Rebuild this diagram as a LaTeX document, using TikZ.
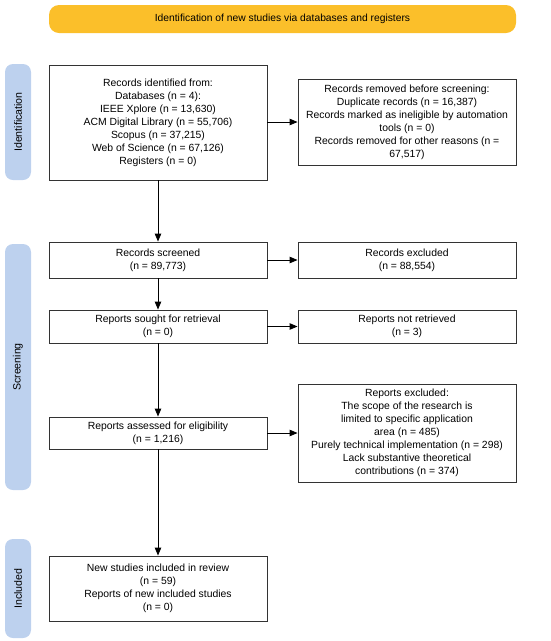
\documentclass[tikz,border=0pt]{standalone}
\usepackage{fontspec}
\setmainfont{Liberation Sans}
\usetikzlibrary{arrows.meta}
\definecolor{bannercol}{HTML}{FBBF2A}
\definecolor{barcol}{HTML}{BDD1EE}
\definecolor{linecol}{HTML}{333333}
\tikzset{
  box/.style={draw=linecol, line width=0.9pt, fill=white, align=center, inner sep=2pt,
    minimum width=218pt, font=\fontsize{10.4}{13}\selectfont, text=black},
  bar/.style={fill=barcol, rounded corners=8pt, minimum width=26pt, inner sep=0pt},
  barlabel/.style={rotate=90, font=\fontsize{10.6}{12}\selectfont},
  conn/.style={draw=black, line width=0.9pt, -{Triangle[length=8pt,width=6.5pt]}}
}
\begin{document}
\begin{tikzpicture}[x=1pt,y=-1pt]
\useasboundingbox (0,0) rectangle (550,641);
\node[fill=bannercol, rounded corners=10pt, minimum width=467pt, minimum height=28pt,
  font=\fontsize{10.3}{12}\selectfont] (banner) at (282.5,19) {Identification of new studies via databases and registers};
\node[bar, minimum height=116pt] (idbar) at (18,122) {};
\node[barlabel] (idlab) at (idbar.center) {Identification};
\node[bar, minimum height=246pt] (scbar) at (18,367) {};
\node[barlabel] (sclab) at (scbar.center) {Screening};
\node[bar, minimum height=99pt] (inbar) at (18,588.5) {};
\node[barlabel] (inlab) at (inbar.center) {Included};

\node[box, minimum height=115pt] (b1) at (158,122.5) {Records identified from:\\Databases (n = 4):\\IEEE Xplore (n = 13,630)\\ACM Digital Library (n = 55,706)\\Scopus (n = 37,215)\\Web of Science (n = 67,126)\\Registers (n = 0)};
\node[box, minimum height=86pt] (b2) at (407,122) {Records removed before screening:\\Duplicate records (n = 16,387)\\Records marked as ineligible by automation\\tools (n = 0)\\Records removed for other reasons (n =\\67,517)};
\node[box, minimum height=36pt] (b3) at (158,260) {Records screened\\(n = 89,773)};
\node[box, minimum height=36pt] (b4) at (407,260) {Records excluded\\(n = 88,554)};
\node[box, minimum height=33pt] (b5) at (158,326.5) {Reports sought for retrieval\\(n = 0)};
\node[box, minimum height=33pt] (b6) at (407,326.5) {Reports not retrieved\\(n = 3)};
\node[box, minimum height=32pt] (b7) at (158,433) {Reports assessed for eligibility\\(n = 1,216)};
\node[box, minimum height=98pt] (b8) at (407,433) {Reports excluded:\\The scope of the research is\\limited to specific application\\area (n = 485)\\Purely technical implementation (n = 298)\\Lack substantive theoretical\\contributions (n = 374)};
\node[box, minimum height=65pt] (b9) at (158,588.5) {New studies included in review\\(n = 59)\\Reports of new included studies\\(n = 0)};

\draw[conn] (b1.east |- b2.west) -- (b2.west);
\draw[conn] (b1) -- (b3);
\draw[conn] (b3) -- (b4);
\draw[conn] (b3) -- (b5);
\draw[conn] (b5) -- (b6);
\draw[conn] (b5) -- (b7);
\draw[conn] (b7) -- (b8);
\draw[conn] (b7) -- (b9);
\end{tikzpicture}
\end{document}
